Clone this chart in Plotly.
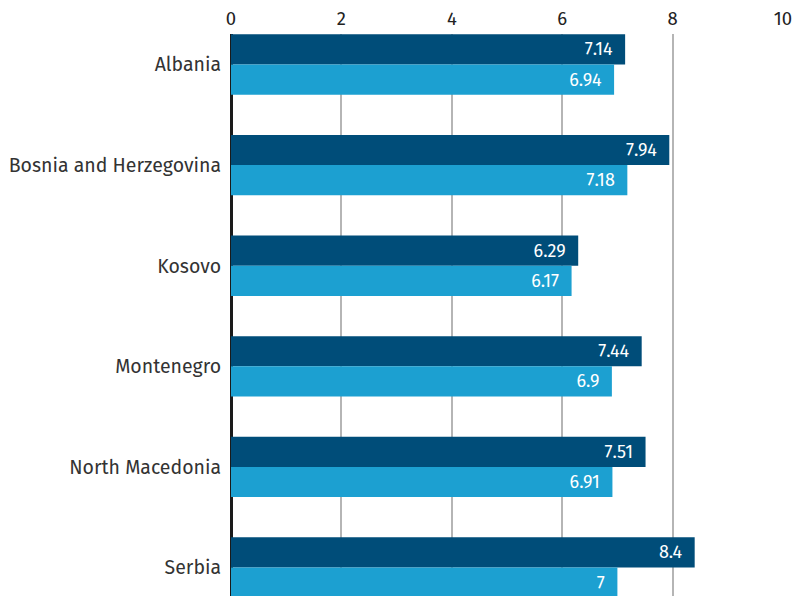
import plotly.graph_objects as go

categories = ["Albania", "Bosnia and Herzegovina", "Kosovo", "Montenegro", "North Macedonia", "Serbia"]
series_a = [7.14, 7.94, 6.29, 7.44, 7.51, 8.4]
series_b = [6.94, 7.18, 6.17, 6.9, 6.91, 7]
x_ticks = [0, 2, 4, 6, 8, 10]

font = "Fira Sans, Noto Sans, Open Sans, sans-serif"
pad = "\u00a0\u00a0"

fig = go.Figure()
fig.add_trace(go.Bar(
    y=categories, x=series_a, orientation="h", name="A",
    marker=dict(color="#004d79", line=dict(width=0)),
    texttemplate="%{x}" + pad, textposition="inside", insidetextanchor="end",
    constraintext="none",
    textfont=dict(color="white", size=18, family=font), cliponaxis=False,
))
fig.add_trace(go.Bar(
    y=categories, x=series_b, orientation="h", name="B",
    marker=dict(color="#1ca0d1", line=dict(width=0)),
    texttemplate="%{x}" + pad, textposition="inside", insidetextanchor="end",
    constraintext="none",
    textfont=dict(color="white", size=18, family=font), cliponaxis=False,
))

fig.update_layout(
    width=796, height=596,
    margin=dict(l=231, r=13, t=34, b=0, pad=0, autoexpand=False),
    barmode="group", bargap=0.4, bargroupgap=0,
    plot_bgcolor="white", paper_bgcolor="white",
    showlegend=False,
    font=dict(family=font, color="#333333"),
)
fig.update_xaxes(
    side="top", range=[0, 10], tickvals=x_ticks, automargin=False,
    showgrid=True, gridcolor="#b5b5b5", gridwidth=1.5,
    zeroline=True, zerolinecolor="#1a1a1a", zerolinewidth=2.5,
    ticks="outside", ticklen=1, tickcolor="white",
    tickfont=dict(size=18.5, color="#222222", family=font),
    showline=False,
)
fig.update_yaxes(
    categoryorder="array", categoryarray=categories, automargin=False,
    range=[5.283, -0.303], autorange=False,
    ticks="outside", ticklen=5, tickcolor="white",
    tickfont=dict(size=19.5, color="#333333", family=font),
    showgrid=False, zeroline=False, showline=False,
)

fig.write_html(
    "out.html",
    config={"displayModeBar": False},
    post_script="document.body.style.margin='0';document.body.style.overflow='hidden';",
)
